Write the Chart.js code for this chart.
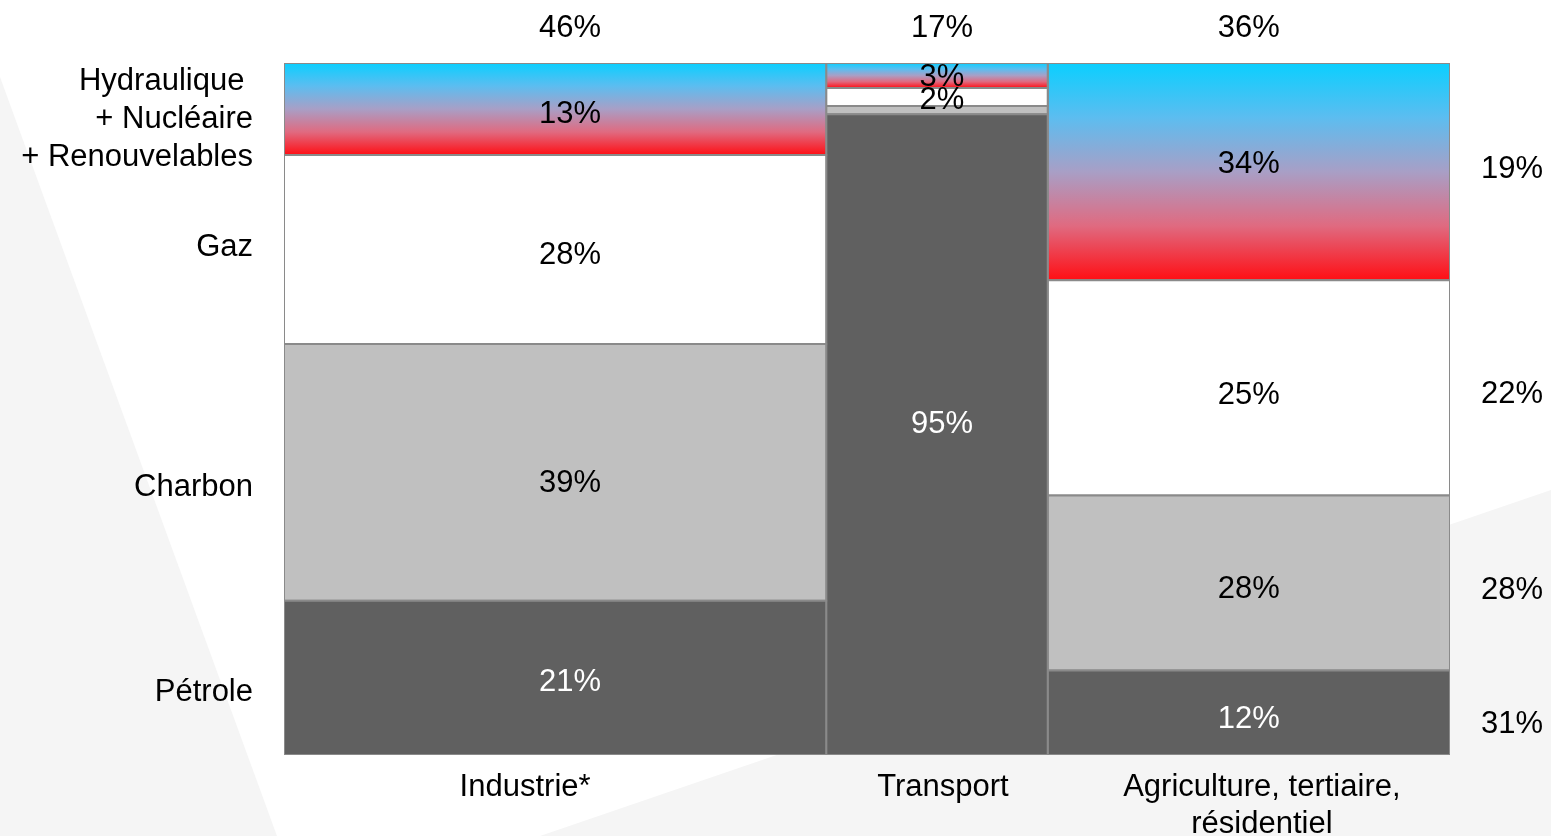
<!DOCTYPE html>
<html>
<head>
<meta charset="utf-8">
<script src="https://cdn.jsdelivr.net/npm/chart.js@4.4.1/dist/chart.umd.min.js"></script>
<style>
  html, body { margin: 0; padding: 0; background: #ffffff; }
  canvas { display: block; }
</style>
</head>
<body>
<canvas id="c" width="1551" height="836"></canvas>
<script>
// ---- Data ----
const columns = ['Industrie*', 'Transport', ['Agriculture, tertiaire,', 'résidentiel']];
const columnShareLabels = ['46%', '17%', '36%'];
const columnWidths = [46.5, 19.0, 34.5];            // widths as drawn (% of total)

const sources = ['Hydraulique + Nucléaire + Renouvelables', 'Gaz', 'Charbon', 'Pétrole'];
const sourceLabels = [['Hydraulique ', '+ Nucléaire', '+ Renouvelables'], ['Gaz'], ['Charbon'], ['Pétrole']];
const totalShareLabels = ['19%', '22%', '28%', '31%'];

// segment heights per column, order: hydro/nuc/ren, gaz, charbon, pétrole
const industrieValues   = [13.3, 27.3, 37.1, 22.3];
const transportValues   = [3.6, 2.6, 1.2, 92.6];
const agricultureValues = [31.4, 31.1, 25.3, 12.2];

const industrieLabels   = ['13%', '28%', '39%', '21%'];
const transportLabels   = ['3%', '2%', '', '95%'];
const agricultureLabels = ['34%', '25%', '28%', '12%'];

const columnValues = [industrieValues, transportValues, agricultureValues];
const columnLabels = [industrieLabels, transportLabels, agricultureLabels];

// ---- Styles ----
const FONT = '"Liberation Sans", Arial, Helvetica, sans-serif';
const FS = 31;
const fills = ['gradient', '#ffffff', '#c0c0c0', '#606060'];
const textColors = ['#000000', '#000000', '#000000', '#ffffff'];
const BORDER = '#8a8a8a';
// small text nudges (pixels) to follow the reference typesetting
const valueDx = [15, 5, 0];
const valueDy = [[5, 6, 11, 5], [2, 4, 0, -10], [-7, 8, 6, 7]];
const nameDx = [-30, 6, 13];
const sourceDy = [10, -2, 15, 15];
const totalDy = [-2, 7, 7, 12];

// ---- Build geometry (in data units) ----
const segments = [];   // {col, src, x0, x1, y0, y1}
let xAcc = 0;
columnValues.forEach((vals, ci) => {
  const x0 = xAcc, x1 = xAcc + columnWidths[ci];
  let yAcc = 0;
  for (let si = vals.length - 1; si >= 0; si--) {
    const y0 = yAcc, y1 = yAcc + vals[si];
    segments.push({ col: ci, src: si, x0, x1, y0, y1 });
    yAcc = y1;
  }
  xAcc = x1;
});
const totalWidth = xAcc;

function gradientFor(ctx, scales, seg) {
  const top = scales.y.getPixelForValue(seg.y1);
  const bot = scales.y.getPixelForValue(seg.y0);
  const g = ctx.createLinearGradient(0, top, 0, bot);
  g.addColorStop(0, '#0acfff');
  g.addColorStop(0.25, '#5cbdf0');
  g.addColorStop(0.5, '#a89fc6');
  g.addColorStop(0.75, '#e06a80');
  g.addColorStop(1, '#ff0e14');
  return g;
}

const datasets = segments.map(seg => ({
  label: sources[seg.src] + ' / ' + (Array.isArray(columns[seg.col]) ? columns[seg.col].join(' ') : columns[seg.col]),
  data: [
    { x: seg.x0, y: seg.y0 }, { x: seg.x1, y: seg.y0 },
    { x: seg.x1, y: seg.y1 }, { x: seg.x0, y: seg.y1 }, { x: seg.x0, y: seg.y0 }
  ],
  borderColor: BORDER,
  borderWidth: 2,
  pointRadius: 0,
  tension: 0,
  fill: 'shape',
  backgroundColor: (context) => {
    if (fills[seg.src] !== 'gradient') return fills[seg.src];
    const chart = context.chart;
    if (!chart.chartArea || !chart.scales.y) return '#a89fc6';
    return gradientFor(chart.ctx, chart.scales, seg);
  }
}));

const bgPlugin = {
  id: 'bg',
  beforeDraw(chart) {
    const ctx = chart.ctx;
    ctx.save();
    ctx.fillStyle = '#ffffff';
    ctx.fillRect(0, 0, chart.width, chart.height);
    ctx.fillStyle = '#f5f5f5';
    ctx.beginPath();
    ctx.moveTo(0, 77); ctx.lineTo(277, 836); ctx.lineTo(0, 836); ctx.closePath();
    ctx.fill();
    ctx.beginPath();
    ctx.moveTo(540, 836); ctx.lineTo(1551, 490); ctx.lineTo(1551, 836); ctx.closePath();
    ctx.fill();
    ctx.restore();
  }
};

const labelPlugin = {
  id: 'labels',
  afterDraw(chart) {
    const ctx = chart.ctx;
    const xs = chart.scales.x, ys = chart.scales.y;
    const area = chart.chartArea;
    ctx.save();
    ctx.font = FS + 'px ' + FONT;
    ctx.textBaseline = 'middle';

    // in-segment labels
    segments.forEach(seg => {
      const txt = columnLabels[seg.col][seg.src];
      if (!txt) return;
      const cx = xs.getPixelForValue((seg.x0 + seg.x1) / 2) + valueDx[seg.col];
      const cy = ys.getPixelForValue((seg.y0 + seg.y1) / 2) + valueDy[seg.col][seg.src];
      ctx.fillStyle = textColors[seg.src];
      ctx.textAlign = 'center';
      ctx.fillText(txt, cx, cy);
    });

    // column share labels (top) and column names (bottom)
    let acc = 0;
    columnWidths.forEach((w, ci) => {
      const cx = xs.getPixelForValue(acc + w / 2);
      ctx.fillStyle = '#000000';
      ctx.textAlign = 'center';
      ctx.fillText(columnShareLabels[ci], cx + valueDx[ci], area.top - 35);
      const names = Array.isArray(columns[ci]) ? columns[ci] : [columns[ci]];
      names.forEach((n, li) => ctx.fillText(n, cx + nameDx[ci], area.bottom + 32 + li * 37));
      acc += w;
    });

    // left source labels, aligned with first column segments
    segments.filter(s => s.col === 0).forEach(seg => {
      const lines = sourceLabels[seg.src];
      const cy = ys.getPixelForValue((seg.y0 + seg.y1) / 2) + sourceDy[seg.src];
      ctx.fillStyle = '#000000';
      ctx.textAlign = 'right';
      lines.forEach((l, li) => {
        ctx.fillText(l, area.left - 31, cy + (li - (lines.length - 1) / 2) * 38);
      });
    });

    // right total share labels, aligned with last column segments
    segments.filter(s => s.col === columnValues.length - 1).forEach(seg => {
      const cy = ys.getPixelForValue((seg.y0 + seg.y1) / 2) + totalDy[seg.src];
      ctx.fillStyle = '#000000';
      ctx.textAlign = 'left';
      ctx.fillText(totalShareLabels[seg.src], area.right + 31, cy);
    });
    ctx.restore();
  }
};

new Chart(document.getElementById('c'), {
  type: 'line',
  data: { datasets },
  options: {
    responsive: false,
    animation: false,
    layout: { padding: { left: 284, right: 101, top: 63, bottom: 81 } },
    scales: {
      x: { type: 'linear', min: 0, max: totalWidth, display: false },
      y: { type: 'linear', min: 0, max: 100, display: false }
    },
    plugins: {
      legend: { display: false },
      tooltip: { enabled: false }
    },
    elements: { line: { borderJoinStyle: 'miter' } }
  },
  plugins: [bgPlugin, labelPlugin]
});
</script>
</body>
</html>
